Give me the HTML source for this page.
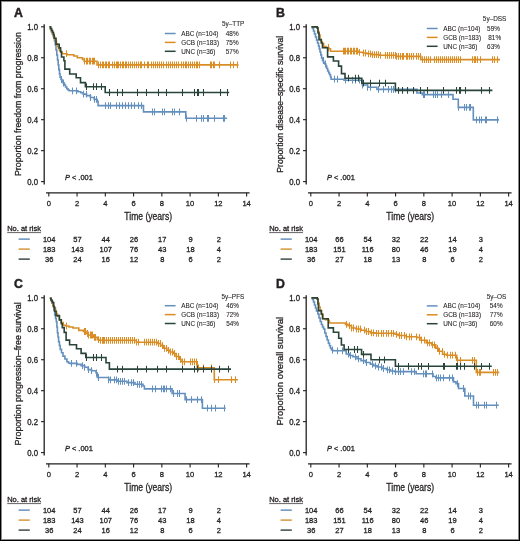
<!DOCTYPE html>
<html><head><meta charset="utf-8"><style>
html,body{margin:0;padding:0;background:#fff;}
svg{display:block;font-family:"Liberation Sans", sans-serif;will-change:transform;}
text{stroke:#231f20;stroke-width:0.3px;}
text.b{stroke-width:0.45px;}
text.l{stroke-width:0.08px;}
</style></head><body>
<svg width="520" height="541" viewBox="0 0 520 541">
<rect x="0" y="0" width="520" height="541" fill="#fff"/>
<g transform="translate(0 0)">
<line x1="44.2" y1="24.2" x2="44.2" y2="184.4" stroke="#231f20" stroke-width="1.3"/>
<line x1="41" y1="26.8" x2="44.2" y2="26.8" stroke="#231f20" stroke-width="1.1"/>
<text x="0" y="0" transform="translate(38 29.7) scale(0.95 1)" font-size="8.2" text-anchor="end" font-weight="normal" font-style="normal" fill="#231f20">1.0</text>
<line x1="41" y1="57.76" x2="44.2" y2="57.76" stroke="#231f20" stroke-width="1.1"/>
<text x="0" y="0" transform="translate(38 60.66) scale(0.95 1)" font-size="8.2" text-anchor="end" font-weight="normal" font-style="normal" fill="#231f20">0.8</text>
<line x1="41" y1="88.72" x2="44.2" y2="88.72" stroke="#231f20" stroke-width="1.1"/>
<text x="0" y="0" transform="translate(38 91.62) scale(0.95 1)" font-size="8.2" text-anchor="end" font-weight="normal" font-style="normal" fill="#231f20">0.6</text>
<line x1="41" y1="119.68" x2="44.2" y2="119.68" stroke="#231f20" stroke-width="1.1"/>
<text x="0" y="0" transform="translate(38 122.58) scale(0.95 1)" font-size="8.2" text-anchor="end" font-weight="normal" font-style="normal" fill="#231f20">0.4</text>
<line x1="41" y1="150.64" x2="44.2" y2="150.64" stroke="#231f20" stroke-width="1.1"/>
<text x="0" y="0" transform="translate(38 153.54) scale(0.95 1)" font-size="8.2" text-anchor="end" font-weight="normal" font-style="normal" fill="#231f20">0.2</text>
<line x1="41" y1="181.6" x2="44.2" y2="181.6" stroke="#231f20" stroke-width="1.1"/>
<text x="0" y="0" transform="translate(38 184.5) scale(0.95 1)" font-size="8.2" text-anchor="end" font-weight="normal" font-style="normal" fill="#231f20">0.0</text>
<line x1="46" y1="192.8" x2="249.6" y2="192.8" stroke="#231f20" stroke-width="1.3"/>
<line x1="48.8" y1="192.8" x2="48.8" y2="196.4" stroke="#231f20" stroke-width="1.1"/>
<text x="0" y="0" transform="translate(48.8 206.4) scale(0.95 1)" font-size="8.0" text-anchor="middle" font-weight="normal" font-style="normal" fill="#231f20">0</text>
<line x1="77.06" y1="192.8" x2="77.06" y2="196.4" stroke="#231f20" stroke-width="1.1"/>
<text x="0" y="0" transform="translate(77.06 206.4) scale(0.95 1)" font-size="8.0" text-anchor="middle" font-weight="normal" font-style="normal" fill="#231f20">2</text>
<line x1="105.32" y1="192.8" x2="105.32" y2="196.4" stroke="#231f20" stroke-width="1.1"/>
<text x="0" y="0" transform="translate(105.32 206.4) scale(0.95 1)" font-size="8.0" text-anchor="middle" font-weight="normal" font-style="normal" fill="#231f20">4</text>
<line x1="133.58" y1="192.8" x2="133.58" y2="196.4" stroke="#231f20" stroke-width="1.1"/>
<text x="0" y="0" transform="translate(133.58 206.4) scale(0.95 1)" font-size="8.0" text-anchor="middle" font-weight="normal" font-style="normal" fill="#231f20">6</text>
<line x1="161.84" y1="192.8" x2="161.84" y2="196.4" stroke="#231f20" stroke-width="1.1"/>
<text x="0" y="0" transform="translate(161.84 206.4) scale(0.95 1)" font-size="8.0" text-anchor="middle" font-weight="normal" font-style="normal" fill="#231f20">8</text>
<line x1="190.1" y1="192.8" x2="190.1" y2="196.4" stroke="#231f20" stroke-width="1.1"/>
<text x="0" y="0" transform="translate(190.1 206.4) scale(0.95 1)" font-size="8.0" text-anchor="middle" font-weight="normal" font-style="normal" fill="#231f20">10</text>
<line x1="218.36" y1="192.8" x2="218.36" y2="196.4" stroke="#231f20" stroke-width="1.1"/>
<text x="0" y="0" transform="translate(218.36 206.4) scale(0.95 1)" font-size="8.0" text-anchor="middle" font-weight="normal" font-style="normal" fill="#231f20">12</text>
<line x1="246.62" y1="192.8" x2="246.62" y2="196.4" stroke="#231f20" stroke-width="1.1"/>
<text x="0" y="0" transform="translate(246.62 206.4) scale(0.95 1)" font-size="8.0" text-anchor="middle" font-weight="normal" font-style="normal" fill="#231f20">14</text>
<text x="0" y="0" transform="translate(148.2 219.5) scale(0.85 1)" font-size="10.1" text-anchor="middle" font-weight="normal" font-style="normal" fill="#231f20">Time (years)</text>
<text transform="translate(21.3 104.1) rotate(-90) scale(0.891 1)" x="0" y="0" font-size="9.9" text-anchor="middle" fill="#231f20">Proportion freedom from progression</text>
<text x="13.9" y="16.5" font-size="12.3" text-anchor="start" font-weight="bold" font-style="normal" fill="#231f20" class="b">A</text>
<text x="65.0" y="180.4" font-size="7.4" fill="#231f20"><tspan font-style="italic">P</tspan> &lt; .001</text>
<text x="244.3" y="26.4" font-size="6.4" text-anchor="end" font-weight="normal" font-style="normal" fill="#231f20" class="l">5y–TTP</text>
<line x1="164.8" y1="33.5" x2="175.6" y2="33.5" stroke="#6490be" stroke-width="1.5"/>
<text x="181.2" y="35.8" font-size="6.4" text-anchor="start" font-weight="normal" font-style="normal" fill="#231f20" class="l">ABC (n=104)</text>
<text x="225.8" y="35.8" font-size="6.4" text-anchor="start" font-weight="normal" font-style="normal" fill="#231f20" class="l">48%</text>
<line x1="164.8" y1="42.4" x2="175.6" y2="42.4" stroke="#d98d24" stroke-width="1.5"/>
<text x="181.2" y="44.7" font-size="6.4" text-anchor="start" font-weight="normal" font-style="normal" fill="#231f20" class="l">GCB (n=183)</text>
<text x="225.8" y="44.7" font-size="6.4" text-anchor="start" font-weight="normal" font-style="normal" fill="#231f20" class="l">75%</text>
<line x1="164.8" y1="51.3" x2="175.6" y2="51.3" stroke="#29443a" stroke-width="1.5"/>
<text x="181.2" y="53.6" font-size="6.4" text-anchor="start" font-weight="normal" font-style="normal" fill="#231f20" class="l">UNC (n=36)</text>
<text x="225.8" y="53.6" font-size="6.4" text-anchor="start" font-weight="normal" font-style="normal" fill="#231f20" class="l">57%</text>
<text x="7.2" y="231.4" font-size="7.5" text-anchor="start" font-weight="normal" font-style="normal" fill="#231f20">No. at risk</text>
<line x1="7.2" y1="232.6" x2="41" y2="232.6" stroke="#231f20" stroke-width="0.7"/>
<line x1="18.6" y1="239.1" x2="29.8" y2="239.1" stroke="#4f7fb3" stroke-width="1.3"/>
<text x="0" y="0" transform="translate(49.2 241.8) scale(0.94 1)" font-size="8.0" text-anchor="middle" font-weight="normal" font-style="normal" fill="#231f20">104</text>
<text x="0" y="0" transform="translate(77.46 241.8) scale(0.94 1)" font-size="8.0" text-anchor="middle" font-weight="normal" font-style="normal" fill="#231f20">57</text>
<text x="0" y="0" transform="translate(105.72 241.8) scale(0.94 1)" font-size="8.0" text-anchor="middle" font-weight="normal" font-style="normal" fill="#231f20">44</text>
<text x="0" y="0" transform="translate(133.98 241.8) scale(0.94 1)" font-size="8.0" text-anchor="middle" font-weight="normal" font-style="normal" fill="#231f20">26</text>
<text x="0" y="0" transform="translate(162.24 241.8) scale(0.94 1)" font-size="8.0" text-anchor="middle" font-weight="normal" font-style="normal" fill="#231f20">17</text>
<text x="0" y="0" transform="translate(190.5 241.8) scale(0.94 1)" font-size="8.0" text-anchor="middle" font-weight="normal" font-style="normal" fill="#231f20">9</text>
<text x="0" y="0" transform="translate(218.76 241.8) scale(0.94 1)" font-size="8.0" text-anchor="middle" font-weight="normal" font-style="normal" fill="#231f20">2</text>
<line x1="18.6" y1="249.1" x2="29.8" y2="249.1" stroke="#cf8820" stroke-width="1.3"/>
<text x="0" y="0" transform="translate(49.2 251.8) scale(0.94 1)" font-size="8.0" text-anchor="middle" font-weight="normal" font-style="normal" fill="#231f20">183</text>
<text x="0" y="0" transform="translate(77.46 251.8) scale(0.94 1)" font-size="8.0" text-anchor="middle" font-weight="normal" font-style="normal" fill="#231f20">143</text>
<text x="0" y="0" transform="translate(105.72 251.8) scale(0.94 1)" font-size="8.0" text-anchor="middle" font-weight="normal" font-style="normal" fill="#231f20">107</text>
<text x="0" y="0" transform="translate(133.98 251.8) scale(0.94 1)" font-size="8.0" text-anchor="middle" font-weight="normal" font-style="normal" fill="#231f20">76</text>
<text x="0" y="0" transform="translate(162.24 251.8) scale(0.94 1)" font-size="8.0" text-anchor="middle" font-weight="normal" font-style="normal" fill="#231f20">43</text>
<text x="0" y="0" transform="translate(190.5 251.8) scale(0.94 1)" font-size="8.0" text-anchor="middle" font-weight="normal" font-style="normal" fill="#231f20">18</text>
<text x="0" y="0" transform="translate(218.76 251.8) scale(0.94 1)" font-size="8.0" text-anchor="middle" font-weight="normal" font-style="normal" fill="#231f20">4</text>
<line x1="18.6" y1="259.1" x2="29.8" y2="259.1" stroke="#1f302a" stroke-width="1.3"/>
<text x="0" y="0" transform="translate(49.2 261.8) scale(0.94 1)" font-size="8.0" text-anchor="middle" font-weight="normal" font-style="normal" fill="#231f20">36</text>
<text x="0" y="0" transform="translate(77.46 261.8) scale(0.94 1)" font-size="8.0" text-anchor="middle" font-weight="normal" font-style="normal" fill="#231f20">24</text>
<text x="0" y="0" transform="translate(105.72 261.8) scale(0.94 1)" font-size="8.0" text-anchor="middle" font-weight="normal" font-style="normal" fill="#231f20">16</text>
<text x="0" y="0" transform="translate(133.98 261.8) scale(0.94 1)" font-size="8.0" text-anchor="middle" font-weight="normal" font-style="normal" fill="#231f20">12</text>
<text x="0" y="0" transform="translate(162.24 261.8) scale(0.94 1)" font-size="8.0" text-anchor="middle" font-weight="normal" font-style="normal" fill="#231f20">8</text>
<text x="0" y="0" transform="translate(190.5 261.8) scale(0.94 1)" font-size="8.0" text-anchor="middle" font-weight="normal" font-style="normal" fill="#231f20">6</text>
<text x="0" y="0" transform="translate(218.76 261.8) scale(0.94 1)" font-size="8.0" text-anchor="middle" font-weight="normal" font-style="normal" fill="#231f20">2</text>
<path d="M49.5 26.8 L50.5 26.8 L50.5 29 L51.5 29 L51.5 31.5 L52.5 31.5 L52.5 34 L53.5 34 L53.5 37 L54.5 37 L54.5 41 L55.3 41 L55.3 45 L56 45 L56 50 L56.8 50 L56.8 55 L57.5 55 L57.5 60 L58.2 60 L58.2 65 L58.8 65 L58.8 69.6 L59.5 69.6 L59.5 74 L60.1 74 L60.1 77.3 L61 77.3 L61 79.5 L62 79.5 L62 81.2 L63 81.2 L63 83 L64.4 83 L64.4 85 L65.5 85 L65.5 87 L66.8 87 L66.8 88.8 L68 88.8 L68 90 L69.2 90 L69.2 90.8 L78 90.8 L78 91.8 L80.8 91.8 L80.8 92.7 L83.2 92.7 L83.2 94.1 L86.5 94.1 L86.5 95.6 L90.4 95.6 L90.4 97.5 L94.2 97.5 L94.2 99.4 L97.1 99.4 L97.1 101.3 L98.1 101.3 L98.1 105.6 L143.5 105.6 L143.5 111.9 L185.8 111.9 L185.8 118.3 L227 118.3" fill="none" stroke="#6490be" stroke-width="1.6" stroke-linejoin="miter"/>
<path d="M61.5 76.1v6.8 M63.5 79.6v6.8 M72.5 87.4v6.8 M76.5 87.4v6.8 M83.5 90.7v6.8 M86.5 90.7v6.8 M90.5 94.1v6.8 M94.5 96v6.8 M96.5 96v6.8 M105.5 102.2v6.8 M108.5 102.2v6.8 M110.5 102.2v6.8 M116.5 102.2v6.8 M119.5 102.2v6.8 M122.5 102.2v6.8 M125.5 102.2v6.8 M128.5 102.2v6.8 M131.5 102.2v6.8 M134.5 102.2v6.8 M138.5 102.2v6.8 M141.5 102.2v6.8 M152.5 108.5v6.8 M154.5 108.5v6.8 M162.5 108.5v6.8 M164.5 108.5v6.8 M172.5 108.5v6.8 M174.5 108.5v6.8 M179.5 108.5v6.8 M186.5 114.9v6.8 M196.5 114.9v6.8 M201.5 114.9v6.8 M203.5 114.9v6.8 M207.5 114.9v6.8 M208.5 114.9v6.8 M214.5 114.9v6.8 M223.5 114.9v6.8 M224.5 114.9v6.8" fill="none" stroke="#6490be" stroke-width="1.05"/>
<path d="M49.5 26.8 L50.5 26.8 L50.5 29 L51.5 29 L51.5 31.5 L52.5 31.5 L52.5 34 L53.5 34 L53.5 36.5 L54.5 36.5 L54.5 39 L55.5 39 L55.5 41.5 L56.5 41.5 L56.5 44 L57.5 44 L57.5 46.5 L58.5 46.5 L58.5 48.5 L59.5 48.5 L59.5 50.5 L60.5 50.5 L60.5 52.3 L62.3 52.3 L62.3 53.7 L66.9 53.7 L66.9 54.8 L73.8 54.8 L73.8 56 L77.3 56 L77.3 57.7 L82.5 57.7 L82.5 59.4 L84.2 59.4 L84.2 61.2 L97 61.2 L97 64.9 L238.5 64.9" fill="none" stroke="#d98d24" stroke-width="1.6" stroke-linejoin="miter"/>
<path d="M55.5 38.1v6.8 M66.5 50.3v6.8 M84.5 57.8v6.8 M86.5 57.8v6.8 M87.5 57.8v6.8 M89.5 57.8v6.8 M90.5 57.8v6.8 M92.5 57.8v6.8 M93.5 57.8v6.8 M94.5 57.8v6.8 M98.5 61.5v6.8 M100.5 61.5v6.8 M102.5 61.5v6.8 M103.5 61.5v6.8 M105.5 61.5v6.8 M106.5 61.5v6.8 M108.5 61.5v6.8 M109.5 61.5v6.8 M112.5 61.5v6.8 M114.5 61.5v6.8 M116.5 61.5v6.8 M117.5 61.5v6.8 M118.5 61.5v6.8 M120.5 61.5v6.8 M122.5 61.5v6.8 M123.5 61.5v6.8 M125.5 61.5v6.8 M126.5 61.5v6.8 M128.5 61.5v6.8 M130.5 61.5v6.8 M132.5 61.5v6.8 M134.5 61.5v6.8 M136.5 61.5v6.8 M138.5 61.5v6.8 M140.5 61.5v6.8 M141.5 61.5v6.8 M144.5 61.5v6.8 M147.5 61.5v6.8 M148.5 61.5v6.8 M151.5 61.5v6.8 M153.5 61.5v6.8 M155.5 61.5v6.8 M157.5 61.5v6.8 M159.5 61.5v6.8 M161.5 61.5v6.8 M163.5 61.5v6.8 M166.5 61.5v6.8 M168.5 61.5v6.8 M170.5 61.5v6.8 M172.5 61.5v6.8 M174.5 61.5v6.8 M176.5 61.5v6.8 M178.5 61.5v6.8 M181.5 61.5v6.8 M183.5 61.5v6.8 M185.5 61.5v6.8 M186.5 61.5v6.8 M188.5 61.5v6.8 M190.5 61.5v6.8 M192.5 61.5v6.8 M194.5 61.5v6.8 M196.5 61.5v6.8 M197.5 61.5v6.8 M199.5 61.5v6.8 M210.5 61.5v6.8 M211.5 61.5v6.8 M213.5 61.5v6.8 M214.5 61.5v6.8 M219.5 61.5v6.8 M230.5 61.5v6.8 M233.5 61.5v6.8 M237.5 61.5v6.8" fill="none" stroke="#d98d24" stroke-width="1.05"/>
<path d="M49.5 26.8 L50.5 26.8 L50.5 28.5 L51.5 28.5 L51.5 30.5 L52.5 30.5 L52.5 32.5 L53.5 32.5 L53.5 35 L54.2 35 L54.2 38.2 L56 38.2 L56 44.2 L59.2 44.2 L59.2 47.9 L60.6 47.9 L60.6 51.5 L61.5 51.5 L61.5 57 L63.9 57 L63.9 60.8 L64.9 60.8 L64.9 69.1 L69.7 69.1 L69.7 74 L76.2 74 L76.2 77.8 L80.5 77.8 L80.5 82.6 L85.4 82.6 L85.4 86.7 L105.2 86.7 L105.2 92.5 L229.2 92.5" fill="none" stroke="#29443a" stroke-width="1.6" stroke-linejoin="miter"/>
<path d="M86.5 83.3v6.8 M93.5 83.3v6.8 M96.5 83.3v6.8 M101.5 83.3v6.8 M109.5 89.1v6.8 M117.5 89.1v6.8 M122.5 89.1v6.8 M137.5 89.1v6.8 M146.5 89.1v6.8 M158.5 89.1v6.8 M166.5 89.1v6.8 M182.5 89.1v6.8 M194.5 89.1v6.8 M182.5 89.1v6.8 M194.5 89.1v6.8 M197.5 89.1v6.8 M198.5 89.1v6.8 M203.5 89.1v6.8 M220.5 89.1v6.8 M227.5 89.1v6.8" fill="none" stroke="#29443a" stroke-width="1.05"/>
</g>
<g transform="translate(262 0)">
<line x1="44.2" y1="24.2" x2="44.2" y2="184.4" stroke="#231f20" stroke-width="1.3"/>
<line x1="41" y1="26.8" x2="44.2" y2="26.8" stroke="#231f20" stroke-width="1.1"/>
<text x="0" y="0" transform="translate(38 29.7) scale(0.95 1)" font-size="8.2" text-anchor="end" font-weight="normal" font-style="normal" fill="#231f20">1.0</text>
<line x1="41" y1="57.76" x2="44.2" y2="57.76" stroke="#231f20" stroke-width="1.1"/>
<text x="0" y="0" transform="translate(38 60.66) scale(0.95 1)" font-size="8.2" text-anchor="end" font-weight="normal" font-style="normal" fill="#231f20">0.8</text>
<line x1="41" y1="88.72" x2="44.2" y2="88.72" stroke="#231f20" stroke-width="1.1"/>
<text x="0" y="0" transform="translate(38 91.62) scale(0.95 1)" font-size="8.2" text-anchor="end" font-weight="normal" font-style="normal" fill="#231f20">0.6</text>
<line x1="41" y1="119.68" x2="44.2" y2="119.68" stroke="#231f20" stroke-width="1.1"/>
<text x="0" y="0" transform="translate(38 122.58) scale(0.95 1)" font-size="8.2" text-anchor="end" font-weight="normal" font-style="normal" fill="#231f20">0.4</text>
<line x1="41" y1="150.64" x2="44.2" y2="150.64" stroke="#231f20" stroke-width="1.1"/>
<text x="0" y="0" transform="translate(38 153.54) scale(0.95 1)" font-size="8.2" text-anchor="end" font-weight="normal" font-style="normal" fill="#231f20">0.2</text>
<line x1="41" y1="181.6" x2="44.2" y2="181.6" stroke="#231f20" stroke-width="1.1"/>
<text x="0" y="0" transform="translate(38 184.5) scale(0.95 1)" font-size="8.2" text-anchor="end" font-weight="normal" font-style="normal" fill="#231f20">0.0</text>
<line x1="46" y1="192.8" x2="249.6" y2="192.8" stroke="#231f20" stroke-width="1.3"/>
<line x1="48.8" y1="192.8" x2="48.8" y2="196.4" stroke="#231f20" stroke-width="1.1"/>
<text x="0" y="0" transform="translate(48.8 206.4) scale(0.95 1)" font-size="8.0" text-anchor="middle" font-weight="normal" font-style="normal" fill="#231f20">0</text>
<line x1="77.06" y1="192.8" x2="77.06" y2="196.4" stroke="#231f20" stroke-width="1.1"/>
<text x="0" y="0" transform="translate(77.06 206.4) scale(0.95 1)" font-size="8.0" text-anchor="middle" font-weight="normal" font-style="normal" fill="#231f20">2</text>
<line x1="105.32" y1="192.8" x2="105.32" y2="196.4" stroke="#231f20" stroke-width="1.1"/>
<text x="0" y="0" transform="translate(105.32 206.4) scale(0.95 1)" font-size="8.0" text-anchor="middle" font-weight="normal" font-style="normal" fill="#231f20">4</text>
<line x1="133.58" y1="192.8" x2="133.58" y2="196.4" stroke="#231f20" stroke-width="1.1"/>
<text x="0" y="0" transform="translate(133.58 206.4) scale(0.95 1)" font-size="8.0" text-anchor="middle" font-weight="normal" font-style="normal" fill="#231f20">6</text>
<line x1="161.84" y1="192.8" x2="161.84" y2="196.4" stroke="#231f20" stroke-width="1.1"/>
<text x="0" y="0" transform="translate(161.84 206.4) scale(0.95 1)" font-size="8.0" text-anchor="middle" font-weight="normal" font-style="normal" fill="#231f20">8</text>
<line x1="190.1" y1="192.8" x2="190.1" y2="196.4" stroke="#231f20" stroke-width="1.1"/>
<text x="0" y="0" transform="translate(190.1 206.4) scale(0.95 1)" font-size="8.0" text-anchor="middle" font-weight="normal" font-style="normal" fill="#231f20">10</text>
<line x1="218.36" y1="192.8" x2="218.36" y2="196.4" stroke="#231f20" stroke-width="1.1"/>
<text x="0" y="0" transform="translate(218.36 206.4) scale(0.95 1)" font-size="8.0" text-anchor="middle" font-weight="normal" font-style="normal" fill="#231f20">12</text>
<line x1="246.62" y1="192.8" x2="246.62" y2="196.4" stroke="#231f20" stroke-width="1.1"/>
<text x="0" y="0" transform="translate(246.62 206.4) scale(0.95 1)" font-size="8.0" text-anchor="middle" font-weight="normal" font-style="normal" fill="#231f20">14</text>
<text x="0" y="0" transform="translate(148.2 219.5) scale(0.85 1)" font-size="10.1" text-anchor="middle" font-weight="normal" font-style="normal" fill="#231f20">Time (years)</text>
<text transform="translate(21.3 104.2) rotate(-90) scale(0.872 1)" x="0" y="0" font-size="9.9" text-anchor="middle" fill="#231f20">Proportion disease–specific survival</text>
<text x="13.9" y="16.5" font-size="12.3" text-anchor="start" font-weight="bold" font-style="normal" fill="#231f20" class="b">B</text>
<text x="65.0" y="180.4" font-size="7.4" fill="#231f20"><tspan font-style="italic">P</tspan> &lt; .001</text>
<text x="244.3" y="21.4" font-size="6.4" text-anchor="end" font-weight="normal" font-style="normal" fill="#231f20" class="l">5y–DSS</text>
<line x1="164.8" y1="28.5" x2="175.6" y2="28.5" stroke="#6490be" stroke-width="1.5"/>
<text x="181.2" y="30.8" font-size="6.4" text-anchor="start" font-weight="normal" font-style="normal" fill="#231f20" class="l">ABC (n=104)</text>
<text x="225.1" y="30.8" font-size="6.4" text-anchor="start" font-weight="normal" font-style="normal" fill="#231f20" class="l">59%</text>
<line x1="164.8" y1="37.4" x2="175.6" y2="37.4" stroke="#d98d24" stroke-width="1.5"/>
<text x="181.2" y="39.7" font-size="6.4" text-anchor="start" font-weight="normal" font-style="normal" fill="#231f20" class="l">GCB (n=183)</text>
<text x="226.3" y="39.7" font-size="6.4" text-anchor="start" font-weight="normal" font-style="normal" fill="#231f20" class="l">81%</text>
<line x1="164.8" y1="46.3" x2="175.6" y2="46.3" stroke="#29443a" stroke-width="1.5"/>
<text x="181.2" y="48.6" font-size="6.4" text-anchor="start" font-weight="normal" font-style="normal" fill="#231f20" class="l">UNC (n=36)</text>
<text x="225.1" y="48.6" font-size="6.4" text-anchor="start" font-weight="normal" font-style="normal" fill="#231f20" class="l">63%</text>
<text x="7.2" y="231.4" font-size="7.5" text-anchor="start" font-weight="normal" font-style="normal" fill="#231f20">No. at risk</text>
<line x1="7.2" y1="232.6" x2="41" y2="232.6" stroke="#231f20" stroke-width="0.7"/>
<line x1="18.6" y1="239.1" x2="29.8" y2="239.1" stroke="#4f7fb3" stroke-width="1.3"/>
<text x="0" y="0" transform="translate(49.2 241.8) scale(0.94 1)" font-size="8.0" text-anchor="middle" font-weight="normal" font-style="normal" fill="#231f20">104</text>
<text x="0" y="0" transform="translate(77.46 241.8) scale(0.94 1)" font-size="8.0" text-anchor="middle" font-weight="normal" font-style="normal" fill="#231f20">66</text>
<text x="0" y="0" transform="translate(105.72 241.8) scale(0.94 1)" font-size="8.0" text-anchor="middle" font-weight="normal" font-style="normal" fill="#231f20">54</text>
<text x="0" y="0" transform="translate(133.98 241.8) scale(0.94 1)" font-size="8.0" text-anchor="middle" font-weight="normal" font-style="normal" fill="#231f20">32</text>
<text x="0" y="0" transform="translate(162.24 241.8) scale(0.94 1)" font-size="8.0" text-anchor="middle" font-weight="normal" font-style="normal" fill="#231f20">22</text>
<text x="0" y="0" transform="translate(190.5 241.8) scale(0.94 1)" font-size="8.0" text-anchor="middle" font-weight="normal" font-style="normal" fill="#231f20">14</text>
<text x="0" y="0" transform="translate(218.76 241.8) scale(0.94 1)" font-size="8.0" text-anchor="middle" font-weight="normal" font-style="normal" fill="#231f20">3</text>
<line x1="18.6" y1="249.1" x2="29.8" y2="249.1" stroke="#cf8820" stroke-width="1.3"/>
<text x="0" y="0" transform="translate(49.2 251.8) scale(0.94 1)" font-size="8.0" text-anchor="middle" font-weight="normal" font-style="normal" fill="#231f20">183</text>
<text x="0" y="0" transform="translate(77.46 251.8) scale(0.94 1)" font-size="8.0" text-anchor="middle" font-weight="normal" font-style="normal" fill="#231f20">151</text>
<text x="0" y="0" transform="translate(105.72 251.8) scale(0.94 1)" font-size="8.0" text-anchor="middle" font-weight="normal" font-style="normal" fill="#231f20">116</text>
<text x="0" y="0" transform="translate(133.98 251.8) scale(0.94 1)" font-size="8.0" text-anchor="middle" font-weight="normal" font-style="normal" fill="#231f20">80</text>
<text x="0" y="0" transform="translate(162.24 251.8) scale(0.94 1)" font-size="8.0" text-anchor="middle" font-weight="normal" font-style="normal" fill="#231f20">46</text>
<text x="0" y="0" transform="translate(190.5 251.8) scale(0.94 1)" font-size="8.0" text-anchor="middle" font-weight="normal" font-style="normal" fill="#231f20">19</text>
<text x="0" y="0" transform="translate(218.76 251.8) scale(0.94 1)" font-size="8.0" text-anchor="middle" font-weight="normal" font-style="normal" fill="#231f20">4</text>
<line x1="18.6" y1="259.1" x2="29.8" y2="259.1" stroke="#1f302a" stroke-width="1.3"/>
<text x="0" y="0" transform="translate(49.2 261.8) scale(0.94 1)" font-size="8.0" text-anchor="middle" font-weight="normal" font-style="normal" fill="#231f20">36</text>
<text x="0" y="0" transform="translate(77.46 261.8) scale(0.94 1)" font-size="8.0" text-anchor="middle" font-weight="normal" font-style="normal" fill="#231f20">27</text>
<text x="0" y="0" transform="translate(105.72 261.8) scale(0.94 1)" font-size="8.0" text-anchor="middle" font-weight="normal" font-style="normal" fill="#231f20">18</text>
<text x="0" y="0" transform="translate(133.98 261.8) scale(0.94 1)" font-size="8.0" text-anchor="middle" font-weight="normal" font-style="normal" fill="#231f20">13</text>
<text x="0" y="0" transform="translate(162.24 261.8) scale(0.94 1)" font-size="8.0" text-anchor="middle" font-weight="normal" font-style="normal" fill="#231f20">8</text>
<text x="0" y="0" transform="translate(190.5 261.8) scale(0.94 1)" font-size="8.0" text-anchor="middle" font-weight="normal" font-style="normal" fill="#231f20">6</text>
<text x="0" y="0" transform="translate(218.76 261.8) scale(0.94 1)" font-size="8.0" text-anchor="middle" font-weight="normal" font-style="normal" fill="#231f20">2</text>
<path d="M49.5 26.9 L50.5 26.9 L50.5 28.5 L51.5 28.5 L51.5 31 L52.5 31 L52.5 34 L53.5 34 L53.5 37 L54.5 37 L54.5 40 L55.5 40 L55.5 43 L56.5 43 L56.5 46 L57.3 46 L57.3 49 L58 49 L58 52 L58.8 52 L58.8 55 L59.6 55 L59.6 58 L60.5 58 L60.5 60.5 L61.5 60.5 L61.5 62.5 L62.8 62.5 L62.8 64 L63.8 64 L63.8 66 L64.7 66 L64.7 68.5 L65.7 68.5 L65.7 71 L66.7 71 L66.7 73 L67.6 73 L67.6 74.8 L68.5 74.8 L68.5 77 L69.1 77 L69.1 79.2 L82 79.2 L82 80.2 L100.3 80.2 L100.3 85 L105.7 85 L105.7 87.3 L114.9 87.3 L114.9 89.4 L154.9 89.4 L154.9 93 L160.3 93 L160.3 94.6 L191 94.6 L191 99.2 L196.3 99.2 L196.3 107.4 L211.3 107.4 L211.3 119.9 L237 119.9" fill="none" stroke="#6490be" stroke-width="1.6" stroke-linejoin="miter"/>
<path d="M61.5 57.1v6.8 M63.5 60.6v6.8 M72.5 75.8v6.8 M75.5 75.8v6.8 M83.5 76.8v6.8 M90.5 76.8v6.8 M93.5 76.8v6.8 M97.5 76.8v6.8 M100.5 81.6v6.8 M105.5 83.9v6.8 M108.5 83.9v6.8 M116.5 86v6.8 M121.5 86v6.8 M126.5 86v6.8 M129.5 86v6.8 M131.5 86v6.8 M133.5 86v6.8 M161.5 91.2v6.8 M162.5 91.2v6.8 M171.5 91.2v6.8 M173.5 91.2v6.8 M175.5 91.2v6.8 M179.5 91.2v6.8 M186.5 91.2v6.8 M196.5 104v6.8 M202.5 104v6.8 M204.5 104v6.8 M207.5 104v6.8 M208.5 104v6.8 M214.5 116.5v6.8 M217.5 116.5v6.8 M219.5 116.5v6.8 M223.5 116.5v6.8 M224.5 116.5v6.8 M235.5 116.5v6.8" fill="none" stroke="#6490be" stroke-width="1.05"/>
<path d="M49.5 26.9 L55 26.9 L55 28 L56 28 L56 31.5 L57 31.5 L57 35 L58.1 35 L58.1 39.6 L59 39.6 L59 41.5 L60 41.5 L60 43.5 L61.6 43.5 L61.6 46.5 L64 46.5 L64 47.5 L66.8 47.5 L66.8 48.8 L68.5 48.8 L68.5 51.2 L97 51.2 L97 52.3 L101 52.3 L101 53 L105 53 L105 53.8 L110 53.8 L110 54.6 L117 54.6 L117 55.3 L134.5 55.3 L134.5 56.4 L158.8 56.4 L158.8 59.6 L238 59.6" fill="none" stroke="#d98d24" stroke-width="1.6" stroke-linejoin="miter"/>
<path d="M66.5 44.1v6.8 M81.5 47.8v6.8 M82.5 47.8v6.8 M83.5 47.8v6.8 M85.5 47.8v6.8 M86.5 47.8v6.8 M88.5 47.8v6.8 M89.5 47.8v6.8 M91.5 47.8v6.8 M92.5 47.8v6.8 M94.5 47.8v6.8 M95.5 47.8v6.8 M97.5 48.9v6.8 M101.5 49.6v6.8 M103.5 49.6v6.8 M106.5 50.4v6.8 M108.5 50.4v6.8 M110.5 51.2v6.8 M112.5 51.2v6.8 M114.5 51.2v6.8 M116.5 51.2v6.8 M118.5 51.9v6.8 M123.5 51.9v6.8 M125.5 51.9v6.8 M127.5 51.9v6.8 M129.5 51.9v6.8 M131.5 51.9v6.8 M133.5 51.9v6.8 M134.5 53v6.8 M136.5 53v6.8 M138.5 53v6.8 M140.5 53v6.8 M141.5 53v6.8 M144.5 53v6.8 M145.5 53v6.8 M147.5 53v6.8 M149.5 53v6.8 M151.5 53v6.8 M154.5 53v6.8 M156.5 53v6.8 M158.5 53v6.8 M160.5 56.2v6.8 M162.5 56.2v6.8 M164.5 56.2v6.8 M166.5 56.2v6.8 M168.5 56.2v6.8 M172.5 56.2v6.8 M174.5 56.2v6.8 M176.5 56.2v6.8 M178.5 56.2v6.8 M180.5 56.2v6.8 M182.5 56.2v6.8 M184.5 56.2v6.8 M186.5 56.2v6.8 M188.5 56.2v6.8 M190.5 56.2v6.8 M192.5 56.2v6.8 M194.5 56.2v6.8 M196.5 56.2v6.8 M198.5 56.2v6.8 M210.5 56.2v6.8 M212.5 56.2v6.8 M213.5 56.2v6.8 M215.5 56.2v6.8 M218.5 56.2v6.8 M230.5 56.2v6.8 M232.5 56.2v6.8 M235.5 56.2v6.8" fill="none" stroke="#d98d24" stroke-width="1.05"/>
<path d="M49.5 26.9 L55.3 26.9 L55.3 28 L56 28 L56 33 L57 33 L57 39.6 L59.3 39.6 L59.3 43 L60.5 43 L60.5 47.7 L65.6 47.7 L65.6 56.9 L71.4 56.9 L71.4 61 L76.6 61 L76.6 66.1 L79.5 66.1 L79.5 73.6 L83 73.6 L83 78.2 L99.8 78.2 L99.8 83.2 L133.4 83.2 L133.4 90.4 L230.4 90.4" fill="none" stroke="#29443a" stroke-width="1.6" stroke-linejoin="miter"/>
<path d="M86.5 74.8v6.8 M93.5 74.8v6.8 M96.5 74.8v6.8 M101.5 79.8v6.8 M108.5 79.8v6.8 M117.5 79.8v6.8 M123.5 79.8v6.8 M136.5 87v6.8 M140.5 87v6.8 M145.5 87v6.8 M151.5 87v6.8 M158.5 87v6.8 M165.5 87v6.8 M181.5 87v6.8 M194.5 87v6.8 M194.5 87v6.8 M197.5 87v6.8 M198.5 87v6.8 M203.5 87v6.8 M219.5 87v6.8 M227.5 87v6.8" fill="none" stroke="#29443a" stroke-width="1.05"/>
</g>
<g transform="translate(0 271)">
<line x1="44.2" y1="24.2" x2="44.2" y2="184.4" stroke="#231f20" stroke-width="1.3"/>
<line x1="41" y1="26.8" x2="44.2" y2="26.8" stroke="#231f20" stroke-width="1.1"/>
<text x="0" y="0" transform="translate(38 29.7) scale(0.95 1)" font-size="8.2" text-anchor="end" font-weight="normal" font-style="normal" fill="#231f20">1.0</text>
<line x1="41" y1="57.76" x2="44.2" y2="57.76" stroke="#231f20" stroke-width="1.1"/>
<text x="0" y="0" transform="translate(38 60.66) scale(0.95 1)" font-size="8.2" text-anchor="end" font-weight="normal" font-style="normal" fill="#231f20">0.8</text>
<line x1="41" y1="88.72" x2="44.2" y2="88.72" stroke="#231f20" stroke-width="1.1"/>
<text x="0" y="0" transform="translate(38 91.62) scale(0.95 1)" font-size="8.2" text-anchor="end" font-weight="normal" font-style="normal" fill="#231f20">0.6</text>
<line x1="41" y1="119.68" x2="44.2" y2="119.68" stroke="#231f20" stroke-width="1.1"/>
<text x="0" y="0" transform="translate(38 122.58) scale(0.95 1)" font-size="8.2" text-anchor="end" font-weight="normal" font-style="normal" fill="#231f20">0.4</text>
<line x1="41" y1="150.64" x2="44.2" y2="150.64" stroke="#231f20" stroke-width="1.1"/>
<text x="0" y="0" transform="translate(38 153.54) scale(0.95 1)" font-size="8.2" text-anchor="end" font-weight="normal" font-style="normal" fill="#231f20">0.2</text>
<line x1="41" y1="181.6" x2="44.2" y2="181.6" stroke="#231f20" stroke-width="1.1"/>
<text x="0" y="0" transform="translate(38 184.5) scale(0.95 1)" font-size="8.2" text-anchor="end" font-weight="normal" font-style="normal" fill="#231f20">0.0</text>
<line x1="46" y1="192.8" x2="249.6" y2="192.8" stroke="#231f20" stroke-width="1.3"/>
<line x1="48.8" y1="192.8" x2="48.8" y2="196.4" stroke="#231f20" stroke-width="1.1"/>
<text x="0" y="0" transform="translate(48.8 206.4) scale(0.95 1)" font-size="8.0" text-anchor="middle" font-weight="normal" font-style="normal" fill="#231f20">0</text>
<line x1="77.06" y1="192.8" x2="77.06" y2="196.4" stroke="#231f20" stroke-width="1.1"/>
<text x="0" y="0" transform="translate(77.06 206.4) scale(0.95 1)" font-size="8.0" text-anchor="middle" font-weight="normal" font-style="normal" fill="#231f20">2</text>
<line x1="105.32" y1="192.8" x2="105.32" y2="196.4" stroke="#231f20" stroke-width="1.1"/>
<text x="0" y="0" transform="translate(105.32 206.4) scale(0.95 1)" font-size="8.0" text-anchor="middle" font-weight="normal" font-style="normal" fill="#231f20">4</text>
<line x1="133.58" y1="192.8" x2="133.58" y2="196.4" stroke="#231f20" stroke-width="1.1"/>
<text x="0" y="0" transform="translate(133.58 206.4) scale(0.95 1)" font-size="8.0" text-anchor="middle" font-weight="normal" font-style="normal" fill="#231f20">6</text>
<line x1="161.84" y1="192.8" x2="161.84" y2="196.4" stroke="#231f20" stroke-width="1.1"/>
<text x="0" y="0" transform="translate(161.84 206.4) scale(0.95 1)" font-size="8.0" text-anchor="middle" font-weight="normal" font-style="normal" fill="#231f20">8</text>
<line x1="190.1" y1="192.8" x2="190.1" y2="196.4" stroke="#231f20" stroke-width="1.1"/>
<text x="0" y="0" transform="translate(190.1 206.4) scale(0.95 1)" font-size="8.0" text-anchor="middle" font-weight="normal" font-style="normal" fill="#231f20">10</text>
<line x1="218.36" y1="192.8" x2="218.36" y2="196.4" stroke="#231f20" stroke-width="1.1"/>
<text x="0" y="0" transform="translate(218.36 206.4) scale(0.95 1)" font-size="8.0" text-anchor="middle" font-weight="normal" font-style="normal" fill="#231f20">12</text>
<line x1="246.62" y1="192.8" x2="246.62" y2="196.4" stroke="#231f20" stroke-width="1.1"/>
<text x="0" y="0" transform="translate(246.62 206.4) scale(0.95 1)" font-size="8.0" text-anchor="middle" font-weight="normal" font-style="normal" fill="#231f20">14</text>
<text x="0" y="0" transform="translate(148.2 219.5) scale(0.85 1)" font-size="10.1" text-anchor="middle" font-weight="normal" font-style="normal" fill="#231f20">Time (years)</text>
<text transform="translate(21.3 102.9) rotate(-90) scale(0.902 1)" x="0" y="0" font-size="9.9" text-anchor="middle" fill="#231f20">Proportion progression–free survival</text>
<text x="13.9" y="16.5" font-size="12.3" text-anchor="start" font-weight="bold" font-style="normal" fill="#231f20" class="b">C</text>
<text x="65.0" y="180.4" font-size="7.4" fill="#231f20"><tspan font-style="italic">P</tspan> &lt; .001</text>
<text x="244.3" y="27.6" font-size="6.4" text-anchor="end" font-weight="normal" font-style="normal" fill="#231f20" class="l">5y–PFS</text>
<line x1="164.8" y1="34.7" x2="175.6" y2="34.7" stroke="#6490be" stroke-width="1.5"/>
<text x="181.2" y="37" font-size="6.4" text-anchor="start" font-weight="normal" font-style="normal" fill="#231f20" class="l">ABC (n=104)</text>
<text x="226.2" y="37" font-size="6.4" text-anchor="start" font-weight="normal" font-style="normal" fill="#231f20" class="l">46%</text>
<line x1="164.8" y1="43.6" x2="175.6" y2="43.6" stroke="#d98d24" stroke-width="1.5"/>
<text x="181.2" y="45.9" font-size="6.4" text-anchor="start" font-weight="normal" font-style="normal" fill="#231f20" class="l">GCB (n=183)</text>
<text x="226.2" y="45.9" font-size="6.4" text-anchor="start" font-weight="normal" font-style="normal" fill="#231f20" class="l">72%</text>
<line x1="164.8" y1="52.5" x2="175.6" y2="52.5" stroke="#29443a" stroke-width="1.5"/>
<text x="181.2" y="54.8" font-size="6.4" text-anchor="start" font-weight="normal" font-style="normal" fill="#231f20" class="l">UNC (n=36)</text>
<text x="226.2" y="54.8" font-size="6.4" text-anchor="start" font-weight="normal" font-style="normal" fill="#231f20" class="l">54%</text>
<text x="7.2" y="231.4" font-size="7.5" text-anchor="start" font-weight="normal" font-style="normal" fill="#231f20">No. at risk</text>
<line x1="7.2" y1="232.6" x2="41" y2="232.6" stroke="#231f20" stroke-width="0.7"/>
<line x1="18.6" y1="239.1" x2="29.8" y2="239.1" stroke="#4f7fb3" stroke-width="1.3"/>
<text x="0" y="0" transform="translate(49.2 241.8) scale(0.94 1)" font-size="8.0" text-anchor="middle" font-weight="normal" font-style="normal" fill="#231f20">104</text>
<text x="0" y="0" transform="translate(77.46 241.8) scale(0.94 1)" font-size="8.0" text-anchor="middle" font-weight="normal" font-style="normal" fill="#231f20">57</text>
<text x="0" y="0" transform="translate(105.72 241.8) scale(0.94 1)" font-size="8.0" text-anchor="middle" font-weight="normal" font-style="normal" fill="#231f20">44</text>
<text x="0" y="0" transform="translate(133.98 241.8) scale(0.94 1)" font-size="8.0" text-anchor="middle" font-weight="normal" font-style="normal" fill="#231f20">26</text>
<text x="0" y="0" transform="translate(162.24 241.8) scale(0.94 1)" font-size="8.0" text-anchor="middle" font-weight="normal" font-style="normal" fill="#231f20">17</text>
<text x="0" y="0" transform="translate(190.5 241.8) scale(0.94 1)" font-size="8.0" text-anchor="middle" font-weight="normal" font-style="normal" fill="#231f20">9</text>
<text x="0" y="0" transform="translate(218.76 241.8) scale(0.94 1)" font-size="8.0" text-anchor="middle" font-weight="normal" font-style="normal" fill="#231f20">2</text>
<line x1="18.6" y1="249.1" x2="29.8" y2="249.1" stroke="#cf8820" stroke-width="1.3"/>
<text x="0" y="0" transform="translate(49.2 251.8) scale(0.94 1)" font-size="8.0" text-anchor="middle" font-weight="normal" font-style="normal" fill="#231f20">183</text>
<text x="0" y="0" transform="translate(77.46 251.8) scale(0.94 1)" font-size="8.0" text-anchor="middle" font-weight="normal" font-style="normal" fill="#231f20">143</text>
<text x="0" y="0" transform="translate(105.72 251.8) scale(0.94 1)" font-size="8.0" text-anchor="middle" font-weight="normal" font-style="normal" fill="#231f20">107</text>
<text x="0" y="0" transform="translate(133.98 251.8) scale(0.94 1)" font-size="8.0" text-anchor="middle" font-weight="normal" font-style="normal" fill="#231f20">76</text>
<text x="0" y="0" transform="translate(162.24 251.8) scale(0.94 1)" font-size="8.0" text-anchor="middle" font-weight="normal" font-style="normal" fill="#231f20">43</text>
<text x="0" y="0" transform="translate(190.5 251.8) scale(0.94 1)" font-size="8.0" text-anchor="middle" font-weight="normal" font-style="normal" fill="#231f20">18</text>
<text x="0" y="0" transform="translate(218.76 251.8) scale(0.94 1)" font-size="8.0" text-anchor="middle" font-weight="normal" font-style="normal" fill="#231f20">4</text>
<line x1="18.6" y1="259.1" x2="29.8" y2="259.1" stroke="#1f302a" stroke-width="1.3"/>
<text x="0" y="0" transform="translate(49.2 261.8) scale(0.94 1)" font-size="8.0" text-anchor="middle" font-weight="normal" font-style="normal" fill="#231f20">36</text>
<text x="0" y="0" transform="translate(77.46 261.8) scale(0.94 1)" font-size="8.0" text-anchor="middle" font-weight="normal" font-style="normal" fill="#231f20">24</text>
<text x="0" y="0" transform="translate(105.72 261.8) scale(0.94 1)" font-size="8.0" text-anchor="middle" font-weight="normal" font-style="normal" fill="#231f20">16</text>
<text x="0" y="0" transform="translate(133.98 261.8) scale(0.94 1)" font-size="8.0" text-anchor="middle" font-weight="normal" font-style="normal" fill="#231f20">12</text>
<text x="0" y="0" transform="translate(162.24 261.8) scale(0.94 1)" font-size="8.0" text-anchor="middle" font-weight="normal" font-style="normal" fill="#231f20">8</text>
<text x="0" y="0" transform="translate(190.5 261.8) scale(0.94 1)" font-size="8.0" text-anchor="middle" font-weight="normal" font-style="normal" fill="#231f20">6</text>
<text x="0" y="0" transform="translate(218.76 261.8) scale(0.94 1)" font-size="8.0" text-anchor="middle" font-weight="normal" font-style="normal" fill="#231f20">2</text>
<path d="M49.8 27.3 L50.8 27.3 L50.8 29.5 L51.8 29.5 L51.8 32 L52.8 32 L52.8 35 L53.8 35 L53.8 39 L54.7 39 L54.7 44 L55.5 44 L55.5 47.5 L56.3 47.5 L56.3 50.7 L56.9 50.7 L56.9 56 L57.4 56 L57.4 61.8 L58 61.8 L58 66 L58.6 66 L58.6 70.7 L59.4 70.7 L59.4 74.5 L60.2 74.5 L60.2 78.4 L61.5 78.4 L61.5 81.8 L63 81.8 L63 85.1 L64.9 85.1 L64.9 88 L66.9 88 L66.9 90.7 L68.5 90.7 L68.5 92 L69.7 92 L69.7 92.4 L77.1 92.4 L77.1 93.4 L81.1 93.4 L81.1 94.6 L84.6 94.6 L84.6 96.3 L88.1 96.3 L88.1 98.6 L91.5 98.6 L91.5 99.7 L96.1 99.7 L96.1 102 L97.3 102 L97.3 106.5 L108.7 106.5 L108.7 108.9 L117 108.9 L117 110.3 L126.9 110.3 L126.9 111.6 L135 111.6 L135 113.3 L143 113.3 L143 115 L144.4 115 L144.4 117.9 L172.1 117.9 L172.1 122.5 L185.1 122.5 L185.1 128.6 L202.4 128.6 L202.4 137.2 L225.7 137.2" fill="none" stroke="#6490be" stroke-width="1.6" stroke-linejoin="miter"/>
<path d="M71.5 89v6.8 M76.5 89v6.8 M82.5 91.2v6.8 M84.5 92.9v6.8 M88.5 95.2v6.8 M91.5 96.3v6.8 M96.5 98.6v6.8 M98.5 103.1v6.8 M108.5 105.5v6.8 M110.5 105.5v6.8 M114.5 105.5v6.8 M116.5 105.5v6.8 M118.5 106.9v6.8 M120.5 106.9v6.8 M122.5 106.9v6.8 M124.5 106.9v6.8 M128.5 108.2v6.8 M131.5 108.2v6.8 M133.5 108.2v6.8 M137.5 109.9v6.8 M139.5 109.9v6.8 M141.5 109.9v6.8 M152.5 114.5v6.8 M155.5 114.5v6.8 M161.5 114.5v6.8 M164.5 114.5v6.8 M161.5 114.5v6.8 M163.5 114.5v6.8 M166.5 114.5v6.8 M170.5 114.5v6.8 M173.5 119.1v6.8 M177.5 119.1v6.8 M179.5 119.1v6.8 M186.5 125.2v6.8 M191.5 125.2v6.8 M197.5 125.2v6.8 M201.5 125.2v6.8 M207.5 133.8v6.8 M211.5 133.8v6.8 M215.5 133.8v6.8 M224.5 133.8v6.8" fill="none" stroke="#6490be" stroke-width="1.05"/>
<path d="M49.8 27.3 L51 27.3 L51 29.5 L52 29.5 L52 32 L53 32 L53 34.5 L54 34.5 L54 37 L55.5 37 L55.5 40.3 L56.5 40.3 L56.5 43 L57.5 43 L57.5 45.5 L59.4 45.5 L59.4 48.9 L61 48.9 L61 51.5 L63.2 51.5 L63.2 54.2 L66 54.2 L66 55 L69 55 L69 56 L73 56 L73 57 L78.8 57 L78.8 59.4 L83.4 59.4 L83.4 60.5 L86 60.5 L86 62.5 L88.1 62.5 L88.1 64 L93.8 64 L93.8 66.3 L97.3 66.3 L97.3 68.6 L99 68.6 L99 69.3 L136.3 69.3 L136.3 71.2 L157.9 71.2 L157.9 72.5 L160.6 72.5 L160.6 74.6 L163.3 74.6 L163.3 77.3 L166.9 77.3 L166.9 79.3 L170 79.3 L170 81 L173.8 81 L173.8 82.5 L176 82.5 L176 85.5 L179.5 85.5 L179.5 88.3 L181 88.3 L181 90.8 L197.2 90.8 L197.2 96.8 L214.3 96.8 L214.3 108.7 L237.9 108.7" fill="none" stroke="#d98d24" stroke-width="1.6" stroke-linejoin="miter"/>
<path d="M66.5 51.6v6.8 M84.5 57.1v6.8 M85.5 57.1v6.8 M87.5 59.1v6.8 M88.5 60.6v6.8 M90.5 60.6v6.8 M91.5 60.6v6.8 M92.5 60.6v6.8 M94.5 62.9v6.8 M95.5 62.9v6.8 M98.5 65.2v6.8 M100.5 65.9v6.8 M102.5 65.9v6.8 M103.5 65.9v6.8 M104.5 65.9v6.8 M106.5 65.9v6.8 M108.5 65.9v6.8 M110.5 65.9v6.8 M112.5 65.9v6.8 M114.5 65.9v6.8 M116.5 65.9v6.8 M118.5 65.9v6.8 M120.5 65.9v6.8 M122.5 65.9v6.8 M124.5 65.9v6.8 M126.5 65.9v6.8 M128.5 65.9v6.8 M130.5 65.9v6.8 M132.5 65.9v6.8 M134.5 65.9v6.8 M136.5 67.8v6.8 M138.5 67.8v6.8 M144.5 67.8v6.8 M146.5 67.8v6.8 M148.5 67.8v6.8 M150.5 67.8v6.8 M152.5 67.8v6.8 M154.5 67.8v6.8 M156.5 67.8v6.8 M158.5 69.1v6.8 M160.5 69.1v6.8 M162.5 71.2v6.8 M164.5 73.9v6.8 M166.5 73.9v6.8 M168.5 75.9v6.8 M170.5 77.6v6.8 M172.5 77.6v6.8 M174.5 79.1v6.8 M176.5 82.1v6.8 M178.5 82.1v6.8 M180.5 84.9v6.8 M182.5 87.4v6.8 M184.5 87.4v6.8 M190.5 87.4v6.8 M192.5 87.4v6.8 M194.5 87.4v6.8 M196.5 87.4v6.8 M198.5 93.4v6.8 M203.5 93.4v6.8 M211.5 93.4v6.8 M214.5 105.3v6.8 M218.5 105.3v6.8 M231.5 105.3v6.8 M235.5 105.3v6.8" fill="none" stroke="#d98d24" stroke-width="1.05"/>
<path d="M49.8 27.3 L51 27.3 L51 29 L52 29 L52 30.5 L52.7 30.5 L52.7 31.6 L53.7 31.6 L53.7 36 L54.6 36 L54.6 40.3 L56 40.3 L56 44.6 L59.4 44.6 L59.4 48.9 L61.3 48.9 L61.3 52.8 L62.3 52.8 L62.3 56.6 L64.2 56.6 L64.2 61.4 L66.1 61.4 L66.1 69.1 L69.6 69.1 L69.6 73.8 L76.5 73.8 L76.5 77.8 L81.1 77.8 L81.1 82.4 L85.8 82.4 L85.8 86.5 L106 86.5 L106 91.7 L109.4 91.7 L109.4 98.1 L231 98.1" fill="none" stroke="#29443a" stroke-width="1.6" stroke-linejoin="miter"/>
<path d="M86.5 83.1v6.8 M93.5 83.1v6.8 M96.5 83.1v6.8 M101.5 83.1v6.8 M117.5 94.7v6.8 M122.5 94.7v6.8 M137.5 94.7v6.8 M146.5 94.7v6.8 M157.5 94.7v6.8 M166.5 94.7v6.8 M182.5 94.7v6.8 M194.5 94.7v6.8 M197.5 94.7v6.8 M203.5 94.7v6.8 M211.5 94.7v6.8 M219.5 94.7v6.8 M228.5 94.7v6.8" fill="none" stroke="#29443a" stroke-width="1.05"/>
</g>
<g transform="translate(262 271)">
<line x1="44.2" y1="24.2" x2="44.2" y2="184.4" stroke="#231f20" stroke-width="1.3"/>
<line x1="41" y1="26.8" x2="44.2" y2="26.8" stroke="#231f20" stroke-width="1.1"/>
<text x="0" y="0" transform="translate(38 29.7) scale(0.95 1)" font-size="8.2" text-anchor="end" font-weight="normal" font-style="normal" fill="#231f20">1.0</text>
<line x1="41" y1="57.76" x2="44.2" y2="57.76" stroke="#231f20" stroke-width="1.1"/>
<text x="0" y="0" transform="translate(38 60.66) scale(0.95 1)" font-size="8.2" text-anchor="end" font-weight="normal" font-style="normal" fill="#231f20">0.8</text>
<line x1="41" y1="88.72" x2="44.2" y2="88.72" stroke="#231f20" stroke-width="1.1"/>
<text x="0" y="0" transform="translate(38 91.62) scale(0.95 1)" font-size="8.2" text-anchor="end" font-weight="normal" font-style="normal" fill="#231f20">0.6</text>
<line x1="41" y1="119.68" x2="44.2" y2="119.68" stroke="#231f20" stroke-width="1.1"/>
<text x="0" y="0" transform="translate(38 122.58) scale(0.95 1)" font-size="8.2" text-anchor="end" font-weight="normal" font-style="normal" fill="#231f20">0.4</text>
<line x1="41" y1="150.64" x2="44.2" y2="150.64" stroke="#231f20" stroke-width="1.1"/>
<text x="0" y="0" transform="translate(38 153.54) scale(0.95 1)" font-size="8.2" text-anchor="end" font-weight="normal" font-style="normal" fill="#231f20">0.2</text>
<line x1="41" y1="181.6" x2="44.2" y2="181.6" stroke="#231f20" stroke-width="1.1"/>
<text x="0" y="0" transform="translate(38 184.5) scale(0.95 1)" font-size="8.2" text-anchor="end" font-weight="normal" font-style="normal" fill="#231f20">0.0</text>
<line x1="46" y1="192.8" x2="249.6" y2="192.8" stroke="#231f20" stroke-width="1.3"/>
<line x1="48.8" y1="192.8" x2="48.8" y2="196.4" stroke="#231f20" stroke-width="1.1"/>
<text x="0" y="0" transform="translate(48.8 206.4) scale(0.95 1)" font-size="8.0" text-anchor="middle" font-weight="normal" font-style="normal" fill="#231f20">0</text>
<line x1="77.06" y1="192.8" x2="77.06" y2="196.4" stroke="#231f20" stroke-width="1.1"/>
<text x="0" y="0" transform="translate(77.06 206.4) scale(0.95 1)" font-size="8.0" text-anchor="middle" font-weight="normal" font-style="normal" fill="#231f20">2</text>
<line x1="105.32" y1="192.8" x2="105.32" y2="196.4" stroke="#231f20" stroke-width="1.1"/>
<text x="0" y="0" transform="translate(105.32 206.4) scale(0.95 1)" font-size="8.0" text-anchor="middle" font-weight="normal" font-style="normal" fill="#231f20">4</text>
<line x1="133.58" y1="192.8" x2="133.58" y2="196.4" stroke="#231f20" stroke-width="1.1"/>
<text x="0" y="0" transform="translate(133.58 206.4) scale(0.95 1)" font-size="8.0" text-anchor="middle" font-weight="normal" font-style="normal" fill="#231f20">6</text>
<line x1="161.84" y1="192.8" x2="161.84" y2="196.4" stroke="#231f20" stroke-width="1.1"/>
<text x="0" y="0" transform="translate(161.84 206.4) scale(0.95 1)" font-size="8.0" text-anchor="middle" font-weight="normal" font-style="normal" fill="#231f20">8</text>
<line x1="190.1" y1="192.8" x2="190.1" y2="196.4" stroke="#231f20" stroke-width="1.1"/>
<text x="0" y="0" transform="translate(190.1 206.4) scale(0.95 1)" font-size="8.0" text-anchor="middle" font-weight="normal" font-style="normal" fill="#231f20">10</text>
<line x1="218.36" y1="192.8" x2="218.36" y2="196.4" stroke="#231f20" stroke-width="1.1"/>
<text x="0" y="0" transform="translate(218.36 206.4) scale(0.95 1)" font-size="8.0" text-anchor="middle" font-weight="normal" font-style="normal" fill="#231f20">12</text>
<line x1="246.62" y1="192.8" x2="246.62" y2="196.4" stroke="#231f20" stroke-width="1.1"/>
<text x="0" y="0" transform="translate(246.62 206.4) scale(0.95 1)" font-size="8.0" text-anchor="middle" font-weight="normal" font-style="normal" fill="#231f20">14</text>
<text x="0" y="0" transform="translate(148.2 219.5) scale(0.85 1)" font-size="10.1" text-anchor="middle" font-weight="normal" font-style="normal" fill="#231f20">Time (years)</text>
<text transform="translate(21.3 100.2) rotate(-90) scale(0.955 1)" x="0" y="0" font-size="9.9" text-anchor="middle" fill="#231f20">Proportion overall survival</text>
<text x="13.9" y="16.5" font-size="12.3" text-anchor="start" font-weight="bold" font-style="normal" fill="#231f20" class="b">D</text>
<text x="65.0" y="180.4" font-size="7.4" fill="#231f20"><tspan font-style="italic">P</tspan> &lt; .001</text>
<text x="244.3" y="27.8" font-size="6.4" text-anchor="end" font-weight="normal" font-style="normal" fill="#231f20" class="l">5y–OS</text>
<line x1="164.8" y1="34.9" x2="175.6" y2="34.9" stroke="#6490be" stroke-width="1.5"/>
<text x="181.2" y="37.2" font-size="6.4" text-anchor="start" font-weight="normal" font-style="normal" fill="#231f20" class="l">ABC (n=104)</text>
<text x="227.8" y="37.2" font-size="6.4" text-anchor="start" font-weight="normal" font-style="normal" fill="#231f20" class="l">54%</text>
<line x1="164.8" y1="43.8" x2="175.6" y2="43.8" stroke="#d98d24" stroke-width="1.5"/>
<text x="181.2" y="46.1" font-size="6.4" text-anchor="start" font-weight="normal" font-style="normal" fill="#231f20" class="l">GCB (n=183)</text>
<text x="227.8" y="46.1" font-size="6.4" text-anchor="start" font-weight="normal" font-style="normal" fill="#231f20" class="l">77%</text>
<line x1="164.8" y1="52.7" x2="175.6" y2="52.7" stroke="#29443a" stroke-width="1.5"/>
<text x="181.2" y="55" font-size="6.4" text-anchor="start" font-weight="normal" font-style="normal" fill="#231f20" class="l">UNC (n=36)</text>
<text x="227.8" y="55" font-size="6.4" text-anchor="start" font-weight="normal" font-style="normal" fill="#231f20" class="l">60%</text>
<text x="7.2" y="231.4" font-size="7.5" text-anchor="start" font-weight="normal" font-style="normal" fill="#231f20">No. at risk</text>
<line x1="7.2" y1="232.6" x2="41" y2="232.6" stroke="#231f20" stroke-width="0.7"/>
<line x1="18.6" y1="239.1" x2="29.8" y2="239.1" stroke="#4f7fb3" stroke-width="1.3"/>
<text x="0" y="0" transform="translate(49.2 241.8) scale(0.94 1)" font-size="8.0" text-anchor="middle" font-weight="normal" font-style="normal" fill="#231f20">104</text>
<text x="0" y="0" transform="translate(77.46 241.8) scale(0.94 1)" font-size="8.0" text-anchor="middle" font-weight="normal" font-style="normal" fill="#231f20">66</text>
<text x="0" y="0" transform="translate(105.72 241.8) scale(0.94 1)" font-size="8.0" text-anchor="middle" font-weight="normal" font-style="normal" fill="#231f20">54</text>
<text x="0" y="0" transform="translate(133.98 241.8) scale(0.94 1)" font-size="8.0" text-anchor="middle" font-weight="normal" font-style="normal" fill="#231f20">32</text>
<text x="0" y="0" transform="translate(162.24 241.8) scale(0.94 1)" font-size="8.0" text-anchor="middle" font-weight="normal" font-style="normal" fill="#231f20">22</text>
<text x="0" y="0" transform="translate(190.5 241.8) scale(0.94 1)" font-size="8.0" text-anchor="middle" font-weight="normal" font-style="normal" fill="#231f20">14</text>
<text x="0" y="0" transform="translate(218.76 241.8) scale(0.94 1)" font-size="8.0" text-anchor="middle" font-weight="normal" font-style="normal" fill="#231f20">3</text>
<line x1="18.6" y1="249.1" x2="29.8" y2="249.1" stroke="#cf8820" stroke-width="1.3"/>
<text x="0" y="0" transform="translate(49.2 251.8) scale(0.94 1)" font-size="8.0" text-anchor="middle" font-weight="normal" font-style="normal" fill="#231f20">183</text>
<text x="0" y="0" transform="translate(77.46 251.8) scale(0.94 1)" font-size="8.0" text-anchor="middle" font-weight="normal" font-style="normal" fill="#231f20">151</text>
<text x="0" y="0" transform="translate(105.72 251.8) scale(0.94 1)" font-size="8.0" text-anchor="middle" font-weight="normal" font-style="normal" fill="#231f20">116</text>
<text x="0" y="0" transform="translate(133.98 251.8) scale(0.94 1)" font-size="8.0" text-anchor="middle" font-weight="normal" font-style="normal" fill="#231f20">80</text>
<text x="0" y="0" transform="translate(162.24 251.8) scale(0.94 1)" font-size="8.0" text-anchor="middle" font-weight="normal" font-style="normal" fill="#231f20">46</text>
<text x="0" y="0" transform="translate(190.5 251.8) scale(0.94 1)" font-size="8.0" text-anchor="middle" font-weight="normal" font-style="normal" fill="#231f20">19</text>
<text x="0" y="0" transform="translate(218.76 251.8) scale(0.94 1)" font-size="8.0" text-anchor="middle" font-weight="normal" font-style="normal" fill="#231f20">4</text>
<line x1="18.6" y1="259.1" x2="29.8" y2="259.1" stroke="#1f302a" stroke-width="1.3"/>
<text x="0" y="0" transform="translate(49.2 261.8) scale(0.94 1)" font-size="8.0" text-anchor="middle" font-weight="normal" font-style="normal" fill="#231f20">36</text>
<text x="0" y="0" transform="translate(77.46 261.8) scale(0.94 1)" font-size="8.0" text-anchor="middle" font-weight="normal" font-style="normal" fill="#231f20">27</text>
<text x="0" y="0" transform="translate(105.72 261.8) scale(0.94 1)" font-size="8.0" text-anchor="middle" font-weight="normal" font-style="normal" fill="#231f20">18</text>
<text x="0" y="0" transform="translate(133.98 261.8) scale(0.94 1)" font-size="8.0" text-anchor="middle" font-weight="normal" font-style="normal" fill="#231f20">13</text>
<text x="0" y="0" transform="translate(162.24 261.8) scale(0.94 1)" font-size="8.0" text-anchor="middle" font-weight="normal" font-style="normal" fill="#231f20">8</text>
<text x="0" y="0" transform="translate(190.5 261.8) scale(0.94 1)" font-size="8.0" text-anchor="middle" font-weight="normal" font-style="normal" fill="#231f20">6</text>
<text x="0" y="0" transform="translate(218.76 261.8) scale(0.94 1)" font-size="8.0" text-anchor="middle" font-weight="normal" font-style="normal" fill="#231f20">2</text>
<path d="M49.5 26.9 L50.5 26.9 L50.5 28.5 L51.5 28.5 L51.5 31 L52.5 31 L52.5 34 L53.5 34 L53.5 37 L54.5 37 L54.5 40 L55.8 40 L55.8 43 L57 43 L57 47 L58.2 47 L58.2 50.5 L59.4 50.5 L59.4 53.5 L60.5 53.5 L60.5 56 L61.6 56 L61.6 58 L62.8 58 L62.8 62 L64 62 L64 65.5 L65.2 65.5 L65.2 69 L66.4 69 L66.4 72.3 L67.5 72.3 L67.5 74.8 L68.5 74.8 L68.5 77.3 L69.5 77.3 L69.5 79 L70.8 79 L70.8 79.8 L84.2 79.8 L84.2 83 L87.5 83 L87.5 84.5 L90.9 84.5 L90.9 85.8 L95 85.8 L95 87.8 L99 87.8 L99 89.6 L103.5 89.6 L103.5 91.5 L108.4 91.5 L108.4 93.3 L111.7 93.3 L111.7 94.8 L115.1 94.8 L115.1 96 L120 96 L120 97.5 L124.5 97.5 L124.5 98.8 L128.5 98.8 L128.5 100 L132.6 100 L132.6 100.6 L154.2 100.6 L154.2 102.8 L171 102.8 L171 105.5 L173.8 105.5 L173.8 106.9 L191.5 106.9 L191.5 110.9 L194 110.9 L194 112.6 L196.5 112.6 L196.5 117.5 L202.8 117.5 L202.8 125 L211.5 125 L211.5 134.2 L236.8 134.2" fill="none" stroke="#6490be" stroke-width="1.6" stroke-linejoin="miter"/>
<path d="M70.5 75.6v6.8 M75.5 76.4v6.8 M80.5 76.4v6.8 M86.5 79.6v6.8 M88.5 81.1v6.8 M93.5 82.4v6.8 M96.5 84.4v6.8 M101.5 86.2v6.8 M104.5 88.1v6.8 M110.5 89.9v6.8 M113.5 91.4v6.8 M116.5 92.6v6.8 M119.5 92.6v6.8 M121.5 94.1v6.8 M125.5 95.4v6.8 M127.5 95.4v6.8 M130.5 96.6v6.8 M133.5 97.2v6.8 M136.5 97.2v6.8 M138.5 97.2v6.8 M141.5 97.2v6.8 M149.5 97.2v6.8 M152.5 97.2v6.8 M161.5 99.4v6.8 M163.5 99.4v6.8 M164.5 99.4v6.8 M170.5 99.4v6.8 M174.5 103.5v6.8 M176.5 103.5v6.8 M178.5 103.5v6.8 M181.5 103.5v6.8 M187.5 103.5v6.8 M190.5 103.5v6.8 M195.5 109.2v6.8 M201.5 114.1v6.8 M206.5 121.6v6.8 M208.5 121.6v6.8 M214.5 130.8v6.8 M216.5 130.8v6.8 M222.5 130.8v6.8 M224.5 130.8v6.8 M234.5 130.8v6.8" fill="none" stroke="#6490be" stroke-width="1.05"/>
<path d="M49.5 26.9 L55 26.9 L55 28 L56 28 L56 32 L57 32 L57 36 L58.1 36 L58.1 39.6 L59.5 39.6 L59.5 43.5 L61 43.5 L61 47.7 L63.5 47.7 L63.5 48.8 L66.8 48.8 L66.8 50 L67.4 50 L67.4 52 L83.5 52 L83.5 53.4 L86 53.4 L86 54.6 L89.5 54.6 L89.5 57 L94 57 L94 58 L99 58 L99 59.2 L104 59.2 L104 60.5 L108.4 60.5 L108.4 61.9 L113 61.9 L113 62.3 L133 62.3 L133 63.3 L136.1 63.3 L136.1 64.5 L144.2 64.5 L144.2 65.8 L154.9 65.8 L154.9 66.5 L159 66.5 L159 69.2 L164.3 69.2 L164.3 71.9 L169.7 71.9 L169.7 73.9 L173.8 73.9 L173.8 77.3 L176.5 77.3 L176.5 80.3 L180.6 80.3 L180.6 83.3 L184.5 83.3 L184.5 84.2 L194.7 84.2 L194.7 89.3 L214.3 89.3 L214.3 101.4 L237.3 101.4" fill="none" stroke="#d98d24" stroke-width="1.6" stroke-linejoin="miter"/>
<path d="M84.5 50v6.8 M87.5 51.2v6.8 M89.5 53.6v6.8 M91.5 53.6v6.8 M94.5 54.6v6.8 M96.5 54.6v6.8 M98.5 54.6v6.8 M102.5 55.8v6.8 M104.5 57.1v6.8 M106.5 57.1v6.8 M109.5 58.5v6.8 M111.5 58.5v6.8 M114.5 58.9v6.8 M116.5 58.9v6.8 M119.5 58.9v6.8 M121.5 58.9v6.8 M124.5 58.9v6.8 M126.5 58.9v6.8 M129.5 58.9v6.8 M131.5 58.9v6.8 M134.5 59.9v6.8 M137.5 61.1v6.8 M139.5 61.1v6.8 M142.5 61.1v6.8 M144.5 62.4v6.8 M147.5 62.4v6.8 M149.5 62.4v6.8 M154.5 62.4v6.8 M157.5 63.1v6.8 M159.5 65.8v6.8 M162.5 65.8v6.8 M165.5 68.5v6.8 M167.5 68.5v6.8 M170.5 70.5v6.8 M172.5 70.5v6.8 M175.5 73.9v6.8 M177.5 76.9v6.8 M180.5 76.9v6.8 M182.5 79.9v6.8 M185.5 80.8v6.8 M188.5 80.8v6.8 M190.5 80.8v6.8 M193.5 80.8v6.8 M195.5 85.9v6.8 M198.5 85.9v6.8 M210.5 85.9v6.8 M212.5 85.9v6.8 M215.5 98v6.8 M217.5 98v6.8 M218.5 98v6.8 M231.5 98v6.8 M233.5 98v6.8 M235.5 98v6.8" fill="none" stroke="#d98d24" stroke-width="1.05"/>
<path d="M49.5 26.9 L55.3 26.9 L55.3 28 L56 28 L56 33 L56.4 33 L56.4 39.6 L59.3 39.6 L59.3 43 L60.5 43 L60.5 47.7 L66.2 47.7 L66.2 56.9 L71.4 56.9 L71.4 61.2 L76.7 61.2 L76.7 67.3 L79.4 67.3 L79.4 74 L82.1 74 L82.1 78.5 L99.6 78.5 L99.6 83.4 L109 83.4 L109 88.8 L133.4 88.8 L133.4 95.3 L229.8 95.3" fill="none" stroke="#29443a" stroke-width="1.6" stroke-linejoin="miter"/>
<path d="M86.5 75.1v6.8 M92.5 75.1v6.8 M95.5 75.1v6.8 M101.5 80v6.8 M117.5 85.4v6.8 M122.5 85.4v6.8 M136.5 91.9v6.8 M146.5 91.9v6.8 M156.5 91.9v6.8 M159.5 91.9v6.8 M166.5 91.9v6.8 M181.5 91.9v6.8 M195.5 91.9v6.8 M182.5 91.9v6.8 M194.5 91.9v6.8 M198.5 91.9v6.8 M202.5 91.9v6.8 M212.5 91.9v6.8 M219.5 91.9v6.8 M227.5 91.9v6.8" fill="none" stroke="#29443a" stroke-width="1.05"/>
</g>
<g shape-rendering="crispEdges">
<rect x="1" y="1" width="518" height="539" fill="none" stroke="#8a8a8a" stroke-width="2"/>
<rect x="0" y="0" width="520" height="1" fill="#000"/>
<rect x="0" y="540" width="520" height="1" fill="#000"/>
<rect x="0" y="0" width="1" height="541" fill="#000"/>
<rect x="519" y="0" width="1" height="541" fill="#000"/>
</g>
</svg>
</body></html>
